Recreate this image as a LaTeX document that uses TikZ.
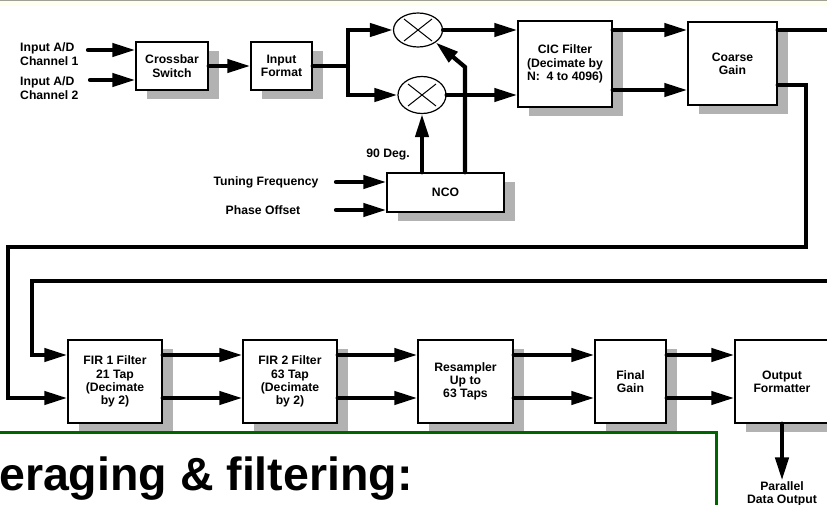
\documentclass[tikz,border=0pt]{standalone}
\usepackage{fontspec}
\setmainfont{Liberation Sans}
\usepackage{tikz}
\usetikzlibrary{shapes.geometric}
\usetikzlibrary{arrows.meta,shadows}
\definecolor{boxgreen}{RGB}{0,100,0}
\definecolor{shadowgray}{RGB}{178,178,178}
\definecolor{topline}{RGB}{160,160,150}
\definecolor{cream}{RGB}{255,255,240}

\tikzset{
	blk/.style={draw, line width=1.4pt, fill=white, inner sep=2pt, align=center,
		drop shadow={shadow xshift=11pt, shadow yshift=-9pt, fill=shadowgray, opacity=1}},
	mixer/.style={draw, ellipse, line width=1.2pt, fill=white, inner sep=0pt},
	sig/.style={line width=4.2pt, line cap=round},
	sigarrow/.style={sig, -{Triangle[length=23pt,width=13pt]}},
	lbl/.style={inner sep=1pt, align=center},
	xmark/.style={line width=1pt}
}

\begin{document}
\begin{tikzpicture}[x=1pt,y=-1pt,font=\bfseries\fontsize{12.2}{13.3}\selectfont]
	\useasboundingbox (0,0) rectangle (827,505);
	\clip (0,0) rectangle (827,505);
	\fill[white] (0,0) rectangle (827,505);
	\fill[cream] (0,0) rectangle (827,6);
	\fill[topline] (0,0) rectangle (827,1.5);

	\node[lbl, align=left, anchor=west] (in1) at (19,54) {Input A/D\\Channel 1};
	\node[lbl, align=left, anchor=west] (in2) at (19,88) {Input A/D\\Channel 2};
	\node[blk, minimum width=72pt, minimum height=48pt] (xbar) at (172,66) {Crossbar\\Switch};
	\node[blk, minimum width=61pt, minimum height=48pt] (infmt) at (281.5,66) {Input\\Format};
	\node[mixer, minimum width=49pt, minimum height=34pt] (topmix) at (418,30) {};
	\node[mixer, minimum width=48pt, minimum height=37pt] (botmix) at (422,95) {};
	\node[blk, minimum width=94pt, minimum height=86pt] (cic) at (565,64) {CIC Filter\\(Decimate by\\N:\ \ 4 to 4096)};
	\node[blk, minimum width=89pt, minimum height=83pt] (coarse) at (732.5,63.5) {Coarse\\Gain};
	\node[blk, minimum width=117pt, minimum height=39pt] (nco) at (445.5,192.5) {NCO};
	\node[lbl] (deg) at (388,155) {90 Deg.};
	\node[lbl] (tfl) at (266,182) {Tuning Frequency};
	\node[lbl] (pol) at (263,210) {Phase Offset};

	\node[blk, minimum width=94pt, minimum height=83pt] (fir1) at (115,381.5) {FIR 1 Filter\\21 Tap\\(Decimate\\by 2)};
	\node[blk, minimum width=94pt, minimum height=83pt] (fir2) at (290,381.5) {FIR 2 Filter\\63 Tap\\(Decimate\\by 2)};
	\node[blk, minimum width=95pt, minimum height=83pt] (resamp) at (465.5,381.5) {Resampler\\Up to\\63 Taps};
	\node[blk, minimum width=71pt, minimum height=83pt] (fgain) at (630.5,381.5) {Final\\Gain};
	\node[blk, minimum width=94pt, minimum height=83pt] (outfmt) at (782,381.5) {Output\\Formatter};
	\node[lbl] (pdo) at (782,494) {Parallel\\Data Output};

	\foreach \m in {topmix,botmix}{
		\draw[xmark] ([shift={(-14pt,-11pt)}]\m.center) -- ([shift={(14pt,11pt)}]\m.center);
		\draw[xmark] ([shift={(-14pt,11pt)}]\m.center) -- ([shift={(14pt,-11pt)}]\m.center);
	}

	\coordinate (in1s) at (88,50);
	\coordinate (in2s) at (90,80);
	\coordinate (split) at (348,66);
	\coordinate (bend) at (465,67);
	\coordinate (tfs) at (336,182);
	\coordinate (pos) at (336,210);
	\coordinate (rowT) at (0,30);
	\coordinate (rowU) at (0,90);
	\coordinate (cgout) at (806,85);
	\coordinate (offr) at (840,30);
	\coordinate (ret1) at (8,247);
	\coordinate (ret2) at (32,281);
	\coordinate (rowA) at (0,355);
	\coordinate (rowB) at (0,398);

	\draw[sigarrow] (in1s) -- (in1s -| xbar.west);
	\draw[sigarrow] (in2s) -- (in2s -| xbar.west);
	\draw[sigarrow] (xbar.east) -- (infmt.west);
	\draw[sig] (infmt.east) -- (split);
	\draw[sigarrow] (split) |- (topmix.west);
	\draw[sigarrow] (split) |- (botmix.west);
	\draw[sigarrow] (topmix.east) -- (topmix.east -| cic.west);
	\draw[sigarrow] (botmix.east) -- (botmix.east -| cic.west);
	\draw[sigarrow] (cic.east |- rowT) -- (coarse.west |- rowT);
	\draw[sigarrow] (cic.east |- rowU) -- (coarse.west |- rowU);
	\draw[sig] (coarse.east |- rowT) -- (offr);
	\draw[sigarrow] (coarse.east |- cgout) -- (cgout) |- (ret1) |- (fir1.west |- rowB);
	\draw[sigarrow] (offr |- ret2) -- (ret2) |- (fir1.west |- rowA);

	\draw[sigarrow] (tfs) -- (tfs -| nco.west);
	\draw[sigarrow] (pos) -- (pos -| nco.west);
	\draw[sigarrow] (nco.north -| botmix.south) -- (botmix.south);
	\draw[sigarrow] (nco.north -| bend) -- (bend) -- (topmix.south east);

	\foreach \a/\b in {fir1/fir2, fir2/resamp, resamp/fgain, fgain/outfmt}{
		\draw[sigarrow] (\a.east |- rowA) -- (\b.west |- rowA);
		\draw[sigarrow] (\a.east |- rowB) -- (\b.west |- rowB);
	}
	\draw[sigarrow] (outfmt.south) -- (pdo.north);

	\draw[boxgreen, line width=3pt] (-5,432) -- (716,432) -- (716,520);
	\node[anchor=base west, inner sep=0pt, font=\bfseries\fontsize{46.5}{50}\selectfont] (avg) at (-1,490) {eraging \& filtering:};
\end{tikzpicture}
\end{document}
